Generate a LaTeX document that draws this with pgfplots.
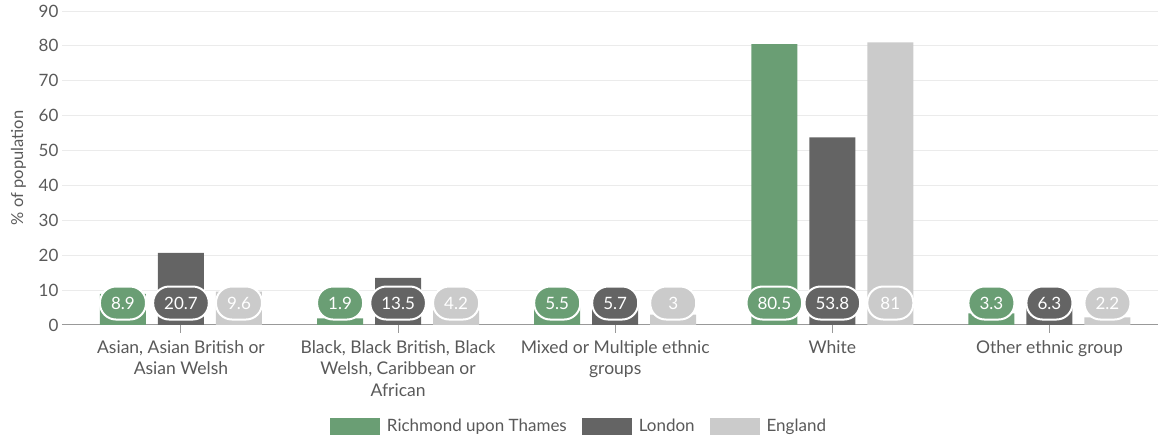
\documentclass[border=0pt]{standalone}
\usepackage{pgfplots}
\usepackage{pgfplotstable}
\pgfplotsset{compat=1.18}
\usepackage{fontspec}
\setmainfont{Lato}
\definecolor{cgreen}{HTML}{6A9E74}
\definecolor{cdark}{HTML}{646464}
\definecolor{clight}{HTML}{CBCBCB}
\definecolor{cgrid}{HTML}{EBEBEB}
\definecolor{caxis}{HTML}{999999}
\definecolor{ctext}{HTML}{595959}
\pgfplotstableread{
x y
0 8.9
1 1.9
2 5.5
3 80.5
4 3.3
}\richmond
\pgfplotstableread{
x y
0 20.7
1 13.5
2 5.7
3 53.8
4 6.3
}\london
\pgfplotstableread{
x y
0 9.6
1 4.2
2 3
3 81
4 2.2
}\england
\begin{document}
\begin{tikzpicture}[
  pill/.style={rectangle, rounded corners=16pt, draw=white, line width=2pt, text=white,
    font=\fontsize{17}{17}\selectfont, minimum height=33pt, minimum width=46pt,
    inner xsep=11pt, inner ysep=0pt, anchor=center}]
\path[use as bounding box] (0,0) rectangle (1168pt,441pt);
\begin{axis}[
  at={(62pt,116pt)}, anchor=south west,
  scale only axis, width=1096pt, height=314pt,
  xmin=-0.548, xmax=4.5, ymin=0, ymax=90,
  ytick={0,10,...,90},
  xtick={0,1,2,3,4},
  xticklabels={{Asian, Asian British or\\Asian Welsh},
    {Black, Black British, Black\\Welsh, Caribbean or\\African},
    {Mixed or Multiple ethnic\\groups},
    {White},
    {Other ethnic group}},
  xticklabel style={align=center, font=\fontsize{17.5}{21.5}\selectfont, text=ctext, yshift=-4pt},
  yticklabel style={font=\fontsize{17}{17}\selectfont, text=ctext},
  /pgf/number format/assume math mode=true,
  axis x line*=bottom,
  axis y line*=left,
  y axis line style={draw=none},
  x axis line style={draw=caxis, line width=1pt},
  ytick style={draw=none},
  xtick style={draw=caxis, line width=1pt},
  xtick align=outside,
  major tick length=8pt,
  ymajorgrids, grid style={draw=cgrid, line width=1pt},
  ylabel={\% of population},
  every axis y label/.style={at={(axis description cs:-0.0397,0.5)}, rotate=90, anchor=center,
    font=\fontsize{16.5}{16.5}\selectfont, text=ctext},
  legend columns=3,
  legend style={at={(0.4717,-0.3217)}, anchor=center, draw=none,
    font=\fontsize{17}{17}\selectfont, text=ctext,
    /tikz/every odd column/.append style={column sep=5pt},
    /tikz/every even column/.append style={column sep=13pt}},
  legend cell align=left,
  mylegend/.style={legend image code/.code={\fill[##1] (0pt,-8.5pt) rectangle (50pt,8.5pt);}},
]
\addplot[ybar, bar width=46pt, bar shift=-58pt, fill=cgreen, draw=none, mylegend] table[x=x, y=y] {\richmond};
\addlegendentry{Richmond upon Thames}
\addplot[ybar, bar width=46pt, bar shift=0pt, fill=cdark, draw=none, mylegend] table[x=x, y=y] {\london};
\addlegendentry{London}
\addplot[ybar, bar width=46pt, bar shift=58pt, fill=clight, draw=none, mylegend] table[x=x, y=y] {\england};
\addlegendentry{England}
\addplot[forget plot, only marks, mark=none, point meta=explicit symbolic,
  nodes near coords, nodes near coords style={pill, fill=cgreen}]
  table[x expr=\thisrow{x}-0.2672, y expr=6.3, meta=y] {\richmond};
\addplot[forget plot, only marks, mark=none, point meta=explicit symbolic,
  nodes near coords, nodes near coords style={pill, fill=cdark}]
  table[x expr=\thisrow{x}, y expr=6.3, meta=y] {\london};
\addplot[forget plot, only marks, mark=none, point meta=explicit symbolic,
  nodes near coords, nodes near coords style={pill, fill=clight}]
  table[x expr=\thisrow{x}+0.2672, y expr=6.3, meta=y] {\england};
\end{axis}
\end{tikzpicture}
\end{document}
